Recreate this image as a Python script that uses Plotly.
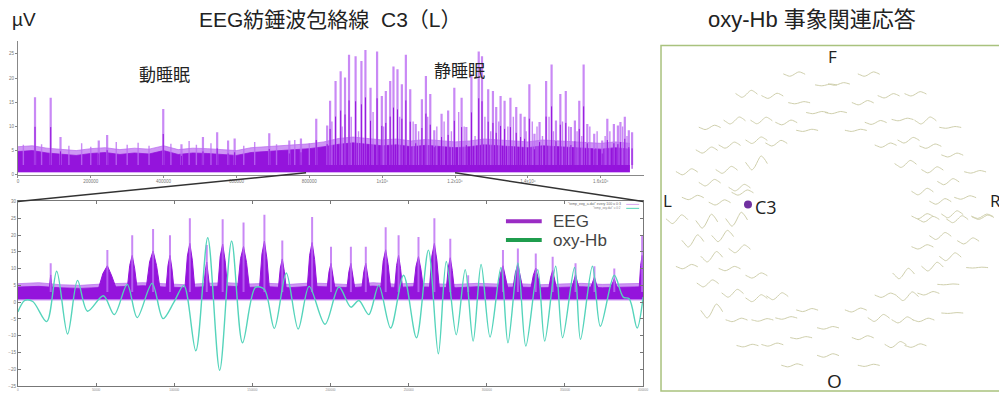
import plotly.graph_objects as go

# ================= DATA =================
# --- top panel: C3 spindle envelope over the whole night (x in 1000 samples, y in µV)
env_bin_k = list(range(0, 1681, 40))
env_band_hi = [5.8, 6.0, 5.5, 5.2, 5.0, 5.4, 5.6, 5.2, 5.5, 5.3,
               6.0, 5.2, 5.5, 5.4, 5.2, 5.0, 5.6, 5.8, 6.0, 6.2,
               6.4, 6.8, 7.5, 7.8, 7.5, 7.2, 7.4, 7.0, 7.3, 7.0,
               6.8, 7.0, 7.4, 7.2, 7.0, 6.8, 7.2, 7.0, 6.8, 6.6,
               6.5, 6.8, 6.5]
env_band_core = [4.8, 5.0, 4.5, 4.2, 4.0, 4.4, 4.6, 4.2, 4.5, 4.3,
                 5.0, 4.2, 4.5, 4.4, 4.2, 4.0, 4.6, 4.8, 5.0, 5.2,
                 5.4, 5.8, 6.3, 6.6, 6.3, 6.0, 6.2, 5.8, 6.1, 5.8,
                 5.6, 5.8, 6.2, 6.0, 5.8, 5.6, 6.0, 5.8, 5.6, 5.4,
                 5.3, 5.6, 5.3]
spike_k = [47, 90, 117, 222, 245, 399, 449, 508, 547, 577, 595, 690, 745, 777, 819, 849,
           857, 872, 886, 898, 909, 927, 943, 954, 968, 986,
           999, 1010, 1022, 1031, 1042, 1054, 1065, 1077, 1092, 1109,
           1120, 1132, 1143, 1163, 1181, 1198, 1218, 1231, 1245, 1265,
           1274, 1291, 1304, 1313, 1325, 1336, 1352, 1368, 1380, 1391,
           1404, 1418, 1432, 1450, 1465, 1477, 1489, 1504, 1518, 1529,
           1541, 1553, 1563, 1582, 1604, 1618, 1636, 1647, 1654, 1666,
           1677, 1686]
spike_uv = [16.0, 15.9, 7.8, 7.1, 8.2, 13.6, 6.3, 7.8, 8.8, 7.1, 7.5, 8.6, 7.1, 7.5, 11.6, 10.2,
            15.3, 19.4, 21.4, 20.1, 24.8, 24.5, 23.5, 25.8, 18.0, 25.5,
            16.3, 17.3, 19.4, 22.4, 21.8, 18.7, 24.8, 17.7, 10.5, 15.6,
            20.4, 16.7, 9.2, 12.6, 13.3, 18.0, 15.9, 9.9, 20.8, 25.5,
            24.5, 17.7, 17.3, 14.0, 16.3, 15.3, 15.9, 14.0, 12.6, 12.0,
            18.7, 8.5, 10.9, 19.4, 22.8, 11.2, 16.7, 17.3, 9.9, 11.2,
            15.3, 22.8, 10.5, 8.5, 7.1, 11.6, 10.5, 10.2, 10.9, 12.0,
            9.2, 8.8]
med_k = [15, 65, 140, 175, 200, 270, 300, 330, 360, 420, 470, 490, 530, 620, 650, 710, 760, 800,
         862, 890, 915, 935, 975, 1004, 1048, 1085, 1100, 1125,
         1150, 1170, 1190, 1210, 1225, 1255, 1282, 1298, 1320, 1345,
         1360, 1395, 1412, 1425, 1440, 1458, 1470, 1495, 1512, 1535,
         1548, 1570, 1590, 1612, 1625, 1660, 1672]
med_uv = [6.2, 6.3, 6.0, 6.5, 5.8, 6.8, 6.2, 6.6, 6.0, 6.4, 7.0, 6.2, 6.5, 6.0, 6.8, 6.3, 7.2, 6.5,
          11, 10, 12, 9, 13, 10, 12, 11, 9, 12,
          10, 11, 9, 13, 10, 8, 12, 9, 11, 10,
          12, 9, 11, 10, 8, 12, 9, 11, 10, 9,
          8, 10, 9, 8, 9, 10, 8]
top_xtick_vals = [0, 200000, 400000, 600000, 800000, 1000000, 1200000, 1400000, 1600000]
top_xtick_text = ["0", "200000", "400000", "600000", "800000",
                  "1x10⁶", "1.2x10⁶", "1.4x10⁶", "1.6x10⁶"]
top_ytick_vals = [0, 5, 10, 15, 20, 25]
zoom_window = [791000, 1200000]

# --- bottom panel: zoomed EEG envelope and oxy-Hb (t in 100-sample units)
hb_t = [0, 7, 15, 29, 39, 50, 60, 70, 86, 97,
        110, 120, 135, 146, 157, 167, 179, 191, 203, 215,
        226, 239, 248, 258, 270, 282, 293, 309, 323, 335,
        343, 353, 363, 375, 388, 401, 413, 423, 431, 441,
        450, 458, 466, 475, 486, 493, 503, 511, 523, 530,
        541, 548, 560, 566, 578, 586, 600, 609, 615, 623, 629]
hb_val = [-2.9, 0.5, 0.2, -5.8, 9.2, -9.5, 6.5, -2.7, 1.9, -3.7,
          5.3, -4.6, 5.6, -4.9, 0.0, 5.0, -14.5, 19.2, -20.3, 18.2,
          -12.1, 4.4, 3.8, -7.8, 8.7, -8.0, 4.7, -6.6, 4.5, -1.5,
          0.5, -3.7, 5.0, -7.7, 8.0, -10.6, 15.5, -15.4, 12.1, -9.7,
          9.7, -11.6, 11.2, -10.4, 10.3, -12.1, 11.7, -13.1, 9.7, -11.6,
          10.7, -10.6, 10.3, -11.1, 10.7, -7.2, 8.0, 1.5, 1.0, -7.7, 1.5]
eeg_bin_t = list(range(0, 631, 21))
eeg_band_hi = [5.5, 5.8, 5.2, 5.0, 5.4, 5.6, 5.8, 5.5, 5.2, 5.6,
               5.8, 5.4, 5.6, 5.3, 5.7, 5.5, 5.2, 5.8, 5.4, 5.6,
               5.5, 5.3, 5.6, 5.4, 5.5, 5.2, 5.4, 5.6, 5.3, 5.5, 5.6]
eeg_band_core = [4.5, 4.7, 4.3, 4.1, 4.4, 4.7, 4.9, 4.5, 4.3, 4.6,
                 4.8, 4.4, 4.6, 4.3, 4.7, 4.5, 4.3, 4.8, 4.4, 4.6,
                 4.5, 4.3, 4.6, 4.4, 4.5, 4.3, 4.4, 4.6, 4.3, 4.5, 4.6]
burst_t = [33, 90, 115, 136, 153, 173, 190, 206, 227, 248,
           266, 296, 315, 335, 350, 370, 383, 403, 419, 435,
           453, 488, 503, 521, 538, 561, 580, 600, 628]
burst_uv = [11.6, 15.5, 19.9, 21.8, 19.9, 25.0, 17.0, 24.7, 23.7, 26.0,
            18.4, 25.4, 16.5, 16.5, 16.5, 22.3, 19.9, 19.4, 25.0, 18.9,
            8.0, 15.5, 16.0, 14.5, 13.5, 11.6, 10.7, 10.0, 19.9]
burst_w = [3, 18, 10, 14, 8, 10, 6, 10, 12, 10,
           8, 10, 8, 8, 8, 10, 8, 10, 10, 8,
           4, 10, 10, 10, 8, 8, 8, 8, 6]
bot_ytick_vals = [-25, -20, -15, -10, -5, 0, 5, 10, 15, 20, 25, 30]
bot_xtick_text = ["0", "50000", "100000", "150000", "200000", "250000", "300000", "350000", "400000"]

# --- right panel: oxy-Hb event-related response per channel (head-map coords, amplitude)
ch_x = [798, 750, 776, 803, 821, 713, 738, 765, 790, 811, 710, 733, 760, 780, 690, 730, 760, 713, 743, 696, 723, 746,
        873, 843, 830, 867, 893, 920, 840, 880, 907, 930, 955, 860, 890, 913, 935, 957, 910, 937, 980, 953, 927, 945, 970,
        927, 957, 987,
        680, 710, 740, 696, 726, 715, 743, 690, 733, 760, 711, 736, 760, 781, 715, 740, 766, 790, 811, 805, 751, 776, 796,
        832, 832,
        933, 962, 988, 945, 973, 927, 955, 908, 937, 982, 953, 890, 912, 933, 860, 883, 907, 928, 957, 867, 900, 920, 873]
ch_y = [73, 93, 95, 102, 112, 127, 120, 120, 122, 130, 150, 145, 140, 143, 172, 170, 163, 183, 188, 198, 203, 193,
        73, 83, 84, 102, 95, 93, 112, 122, 119, 120, 127, 130, 145, 140, 146, 155, 164, 170, 172, 182, 192, 202, 198,
        217, 215, 217,
        220, 222, 220, 242, 237, 258, 250, 268, 270, 277, 285, 295, 300, 298, 313, 322, 322, 320, 312, 340, 348, 347, 368,
        330, 358,
        220, 220, 218, 237, 242, 248, 258, 275, 268, 269, 286, 297, 298, 295, 312, 320, 322, 322, 315, 340, 347, 348, 368]
ch_amp = [1.0, 1.6, 1.2, 0.5, 0.5, 1.0, 1.6, 1.5, 1.1, 0.5, 1.4, 1.4, 1.5, 1.3, 1.4, 1.6, 3.2, 1.5, 1.5, 1.0, 1.2, 1.2,
          1.0, 0.6, 0.4, 1.0, 1.0, 1.0, 0.5, 0.9, 0.6, 1.6, 0.4, 0.5, 1.0, 1.3, 1.0, 0.9, 1.6, 1.4, 0.6, 1.4, 1.5, 1.3, 0.8,
          1.2, 1.6, 1.0,
          2.0, 3.2, 3.2, 2.8, 2.6, 2.4, 1.8, 1.0, 1.0, 1.2, 1.6, 1.8, 1.6, 1.6, 3.2, 0.8, 0.6, 0.6, 0.7, 0.5, 0.6, 0.7, 0.7,
          0.6, 0.8,
          1.3, 1.6, 1.0, 1.6, 1.4, 1.0, 1.8, 2.4, 2.0, 0.2, 0.2, 1.0, 2.0, 0.8, 0.9, 1.6, 1.4, 0.8, 0.2, 0.9, 1.4, 0.8, 0.5]
hrf_shape = [0.1, -0.5, -1.0, -0.55, 0.35, 1.0, 0.6, -0.1]
c3_pos = (751.5, 205)

# ================= STYLE / LAYOUT HELPERS =================
W, H = 999, 395
def px(x):
    return x / W
def py(y):
    return 1 - y / H

TOP_DOM_X = [px(17), px(647)]
TOP_DOM_Y = [py(175), py(40)]
TOP_RANGE_X = [0, 1719000]
TOP_RANGE_Y = [0, 27.55]
BOT_DOM_X = [px(17), px(646)]
BOT_DOM_Y = [py(389), py(202)]
BOT_RANGE_X = [0, 629]
BOT_RANGE_Y = [-25, 30]

PURPLE_CORE = '#9414dc'
PURPLE_LIGHT = 'rgba(185,105,240,0.7)'
SPIKE_LIGHT = 'rgba(188,108,242,0.8)'
TEAL = '#55d4bb'
WAVE = '#cfcfac'
JP = "Liberation Sans, Noto Sans CJK JP"

fig = go.Figure()

# ---------- top panel ----------
bx = [k * 1000 for k in env_bin_k]
fig.add_trace(go.Scatter(x=bx, y=[0.4] * len(bx), mode='lines', line=dict(width=0),
                         hoverinfo='skip', showlegend=False, xaxis='x', yaxis='y'))
fig.add_trace(go.Scatter(x=bx, y=env_band_hi, mode='lines', fill='tonexty', fillcolor=PURPLE_LIGHT,
                         line=dict(width=1, color=PURPLE_LIGHT), hoverinfo='skip', showlegend=False,
                         xaxis='x', yaxis='y'))
fig.add_trace(go.Scatter(x=bx, y=[0.6] * len(bx), mode='lines', line=dict(width=0),
                         hoverinfo='skip', showlegend=False, xaxis='x', yaxis='y'))
fig.add_trace(go.Scatter(x=bx, y=env_band_core, mode='lines', fill='tonexty', fillcolor=PURPLE_CORE,
                         line=dict(width=0.8, color=PURPLE_CORE), hoverinfo='skip', showlegend=False,
                         xaxis='x', yaxis='y'))

def spike_xy(ks, vals, base):
    xs, ys = [], []
    for k, v in zip(ks, vals):
        xs += [k * 1000, k * 1000, None]
        ys += [base, v, None]
    return xs, ys

mx, my = spike_xy(med_k, med_uv, 2.0)
fig.add_trace(go.Scatter(x=mx, y=my, mode='lines', line=dict(width=1.4, color=SPIKE_LIGHT),
                         hoverinfo='skip', showlegend=False, xaxis='x', yaxis='y'))
sx, sy = spike_xy(spike_k, spike_uv, 2.0)
fig.add_trace(go.Scatter(x=sx, y=sy, mode='lines', line=dict(width=2.2, color=SPIKE_LIGHT),
                         hoverinfo='skip', showlegend=False, xaxis='x', yaxis='y'))
fig.add_trace(go.Scatter(x=sx, y=[None if v is None else v * 0.62 for v in sy], mode='lines',
                         line=dict(width=1.0, color=PURPLE_CORE),
                         hoverinfo='skip', showlegend=False, xaxis='x', yaxis='y'))

# ---------- bottom panel ----------
fig.add_trace(go.Scatter(x=eeg_bin_t, y=[0.5] * len(eeg_bin_t), mode='lines', line=dict(width=0),
                         hoverinfo='skip', showlegend=False, xaxis='x2', yaxis='y2'))
fig.add_trace(go.Scatter(x=eeg_bin_t, y=eeg_band_hi, mode='lines', fill='tonexty', fillcolor=PURPLE_LIGHT,
                         line=dict(width=1, color=PURPLE_LIGHT), hoverinfo='skip', showlegend=False,
                         xaxis='x2', yaxis='y2'))
fig.add_trace(go.Scatter(x=eeg_bin_t, y=[0.9] * len(eeg_bin_t), mode='lines', line=dict(width=0),
                         hoverinfo='skip', showlegend=False, xaxis='x2', yaxis='y2'))
fig.add_trace(go.Scatter(x=eeg_bin_t, y=eeg_band_core, mode='lines', fill='tonexty', fillcolor=PURPLE_CORE,
                         line=dict(width=0.8, color=PURPLE_CORE), hoverinfo='skip', showlegend=False,
                         xaxis='x2', yaxis='y2'))
for t, p, w in zip(burst_t, burst_uv, burst_w):
    fig.add_trace(go.Scatter(x=[t - w / 2, t - w / 4, t, t + w / 4, t + w / 2],
                             y=[4, 0.55 * p, 0.7 * p, 0.5 * p, 4],
                             mode='lines', fill='toself', fillcolor=PURPLE_CORE,
                             line=dict(width=1, color=PURPLE_CORE), hoverinfo='skip', showlegend=False,
                             xaxis='x2', yaxis='y2'))
bxs, bys = [], []
for t, p in zip(burst_t, burst_uv):
    bxs += [t, t, None]
    bys += [3, p, None]
fig.add_trace(go.Scatter(x=bxs, y=bys, mode='lines', line=dict(width=2, color=SPIKE_LIGHT),
                         hoverinfo='skip', showlegend=False, xaxis='x2', yaxis='y2'))
fig.add_trace(go.Scatter(x=hb_t, y=hb_val, mode='lines', line=dict(width=1.4, color=TEAL, shape='spline',
                                                                  smoothing=0.9),
                         hoverinfo='skip', showlegend=False, xaxis='x2', yaxis='y2'))

# ---------- right panel: head map ----------
wx, wy = [], []
n = len(hrf_shape)
for cx, cy, a in zip(ch_x, ch_y, ch_amp):
    for i, v in enumerate(hrf_shape):
        wx.append(cx - 11 + 22 * i / (n - 1))
        wy.append(cy - 2.2 * a * v)
    wx.append(None)
    wy.append(None)
fig.add_trace(go.Scatter(x=wx, y=wy, mode='lines', line=dict(width=1.0, color=WAVE, shape='spline'),
                         hoverinfo='skip', showlegend=False, xaxis='x3', yaxis='y3'))
fig.add_trace(go.Scatter(x=[c3_pos[0]], y=[c3_pos[1]], mode='markers',
                         marker=dict(size=8, color='#7030a0'), hoverinfo='skip', showlegend=False,
                         xaxis='x3', yaxis='y3'))

# ---------- axes ----------
small = dict(size=4.5, color='#777', family='Liberation Sans')
tiny = dict(size=3, color='#888', family='Liberation Sans')
fig.update_layout(
    width=W, height=H, margin=dict(l=0, r=0, t=0, b=0),
    paper_bgcolor='white', plot_bgcolor='rgba(0,0,0,0)', showlegend=False,
    xaxis=dict(domain=TOP_DOM_X, range=TOP_RANGE_X, showline=True, linecolor='#888', linewidth=1,
               ticks='outside', ticklen=2, tickcolor='#888', tickvals=top_xtick_vals, ticktext=top_xtick_text,
               tickfont=small, showgrid=False, zeroline=False, anchor='y', fixedrange=True),
    yaxis=dict(domain=TOP_DOM_Y, range=TOP_RANGE_Y, showline=True, linecolor='#888', linewidth=1,
               ticks='outside', ticklen=2, tickcolor='#888', tickvals=top_ytick_vals,
               tickfont=small, showgrid=False, zeroline=False, anchor='x', fixedrange=True),
    xaxis2=dict(domain=BOT_DOM_X, range=BOT_RANGE_X, showline=True, mirror='ticks', linecolor='#777',
                linewidth=1, ticks='inside', ticklen=3, tickcolor='#777',
                tickvals=[BOT_RANGE_X[1] * i / 8 for i in range(9)], ticktext=bot_xtick_text,
                tickfont=tiny, showgrid=False, zeroline=False, anchor='y2', fixedrange=True),
    yaxis2=dict(domain=BOT_DOM_Y, range=BOT_RANGE_Y, showline=True, mirror='ticks', linecolor='#777',
                linewidth=1, ticks='inside', ticklen=3, tickcolor='#777', tickvals=bot_ytick_vals,
                tickfont=small, showgrid=False, zeroline=False, anchor='x2', fixedrange=True),
    xaxis3=dict(domain=[px(663), 1.0], range=[663, 999], visible=False, anchor='y3', fixedrange=True),
    yaxis3=dict(domain=[0.0, py(44)], range=[395, 44], visible=False, anchor='x3', fixedrange=True),
)

# ---------- connectors from top window to bottom panel ----------
def top_x_to_paper(v):
    return TOP_DOM_X[0] + (v - TOP_RANGE_X[0]) / (TOP_RANGE_X[1] - TOP_RANGE_X[0]) * (TOP_DOM_X[1] - TOP_DOM_X[0])
def top_y_to_paper(v):
    return TOP_DOM_Y[0] + (v - TOP_RANGE_Y[0]) / (TOP_RANGE_Y[1] - TOP_RANGE_Y[0]) * (TOP_DOM_Y[1] - TOP_DOM_Y[0])

shapes = []
y_top = top_y_to_paper(0.4)
shapes.append(dict(type='line', xref='paper', yref='paper', x0=top_x_to_paper(zoom_window[0]), y0=y_top,
                   x1=BOT_DOM_X[0], y1=BOT_DOM_Y[1], line=dict(color='#333', width=1.5)))
shapes.append(dict(type='line', xref='paper', yref='paper', x0=top_x_to_paper(zoom_window[1]), y0=y_top,
                   x1=BOT_DOM_X[1], y1=BOT_DOM_Y[1], line=dict(color='#333', width=1.5)))
# right panel frame
shapes.append(dict(type='rect', xref='paper', yref='paper', x0=px(664), x1=1.03, y0=py(394), y1=py(44),
                   line=dict(color='#a9c27e', width=1.5)))
# legend samples
shapes.append(dict(type='line', xref='paper', yref='paper', x0=px(508), x1=px(544), y0=py(222), y1=py(222),
                   line=dict(color='#9a2cc4', width=4)))
shapes.append(dict(type='line', xref='paper', yref='paper', x0=px(508), x1=px(544), y0=py(241), y1=py(241),
                   line=dict(color='#1f9d4e', width=4)))
shapes.append(dict(type='line', xref='paper', yref='paper', x0=px(629), x1=px(642), y0=py(205), y1=py(205),
                   line=dict(color='#d9a6f2', width=1)))
shapes.append(dict(type='line', xref='paper', yref='paper', x0=px(629), x1=px(642), y0=py(209), y1=py(209),
                   line=dict(color=TEAL, width=1)))
fig.update_layout(shapes=shapes)

def ann(text, x, y, size, color='#222', xanchor='center', family=JP):
    return dict(text=text, x=px(x), y=py(y), xref='paper', yref='paper', showarrow=False,
                xanchor=xanchor, yanchor='middle', font=dict(size=size, color=color, family=family))

annotations = [
    ann("µV", 9, 18, 19, xanchor='left', family='Liberation Sans'),
    ann("EEG紡錘波包絡線  C3（L）", 331, 18, 21),
    ann("oxy-Hb 事象関連応答", 816, 18, 22),
    ann("動睡眠", 164, 74, 17),
    ann("静睡眠", 461, 70, 17),
    ann("EEG", 553, 222, 17, color='#444', xanchor='left', family='Liberation Sans'),
    ann("oxy-Hb", 553, 242, 17, color='#444', xanchor='left', family='Liberation Sans'),
    ann("\"temp_eeg_a.dat\" every 100 u 0:3", 626, 204.5, 3.5, color='#666', xanchor='right',
        family='Liberation Sans'),
    ann("\"temp_oxy.dat\" u 0:2", 626, 208.5, 3, color='#888', xanchor='right', family='Liberation Sans'),
    ann("F", 837, 55, 17, family='Open Sans'),
    ann("L", 671, 201, 17, family='Open Sans'),
    ann("R", 993, 201, 17, xanchor='left', family='Open Sans'),
    ann("O", 839, 384, 19, family='Open Sans'),
    ann("C3", 757, 208, 18, xanchor='left', family='Open Sans'),
]
fig.update_layout(annotations=annotations)

fig.write_html("out.html", config={'displayModeBar': False},
               post_script="document.body.style.margin='0';document.body.style.overflow='hidden';")
